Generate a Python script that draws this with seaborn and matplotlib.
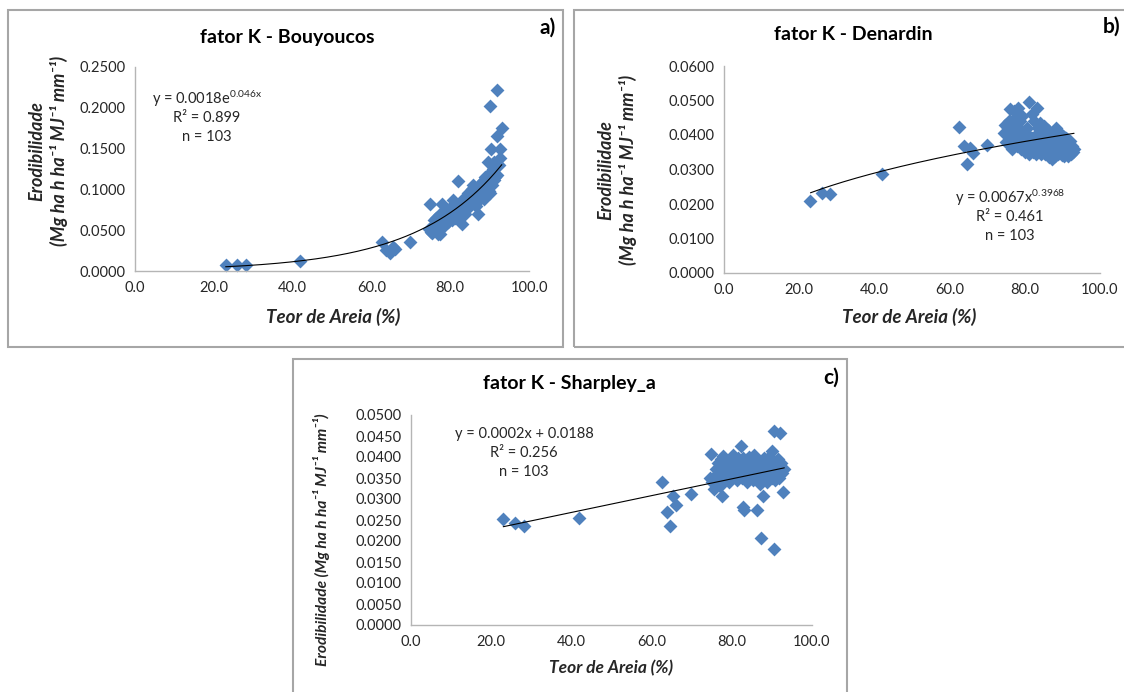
import numpy as np
import matplotlib
matplotlib.use("Agg")
import matplotlib.pyplot as plt
from matplotlib.patches import Rectangle
from matplotlib.ticker import FormatStrFormatter
import seaborn as sns

# teor de areia (%) - the same 103 samples appear in every panel
sand = [23.0, 26.0, 28.2, 42.0, 62.6, 63.8, 64.6, 65.4, 66.1, 69.9,
        74.5, 74.8, 75.0, 75.5, 75.8, 76.0, 76.2, 76.5, 76.8, 77.0,
        77.3, 77.5, 77.8, 78.0, 78.3, 78.5, 78.8, 79.0, 79.3, 79.5,
        79.8, 80.0, 80.3, 80.5, 80.8, 81.0, 81.2, 81.5, 81.8, 82.0,
        82.1, 82.4, 82.6, 82.9, 83.1, 83.3, 83.5, 83.8, 84.0, 84.3,
        84.5, 84.8, 85.0, 85.2, 85.5, 85.7, 85.9, 86.1, 86.4, 86.6,
        86.8, 87.0, 87.1, 87.2, 87.5, 87.8, 88.0, 88.2, 88.5, 88.7,
        88.9, 89.1, 89.4, 89.6, 89.8, 90.0, 90.1, 90.1, 90.3, 90.4,
        90.4, 90.6, 90.8, 91.0, 91.2, 91.5, 91.8, 92.0, 92.0, 92.3,
        92.6, 92.7, 93.1,
        78.2, 80.6, 82.8, 84.2, 85.4, 86.5, 87.9, 88.8, 89.9, 91.4]

k_bouyoucos = [0.0075, 0.0075, 0.0075, 0.0120, 0.0360, 0.0260, 0.0220, 0.0295, 0.0270, 0.0355,
               0.0510, 0.0815, 0.0480, 0.0470, 0.0560, 0.0620, 0.0500, 0.0650, 0.0580, 0.0450,
               0.0700, 0.0455, 0.0815, 0.0600, 0.0680, 0.0550, 0.0720, 0.0640, 0.0710, 0.0600,
               0.0750, 0.0680, 0.0780, 0.0620, 0.0875, 0.0700, 0.0650, 0.0820, 0.0720, 0.0715,
               0.1100, 0.0800, 0.0680, 0.0570, 0.0850, 0.0760, 0.0900, 0.0700, 0.0820, 0.0835,
               0.0950, 0.0780, 0.0880, 0.0957, 0.1000, 0.1060, 0.0850, 0.0920, 0.0880, 0.0795,
               0.0990, 0.1030, 0.0693, 0.0960, 0.0916, 0.1080, 0.0950, 0.1100, 0.1040, 0.0880,
               0.1150, 0.1000, 0.1160, 0.1335, 0.0977, 0.1200, 0.2025, 0.0960, 0.1490, 0.1100,
               0.1180, 0.1050, 0.1250, 0.1335, 0.1120, 0.1280, 0.1180, 0.2220, 0.1650, 0.1300,
               0.1490, 0.1380, 0.1750,
               0.0640, 0.0730, 0.0820, 0.0880, 0.0920, 0.1000, 0.0900, 0.1100, 0.1150, 0.1150]

k_denardin = [0.0208, 0.0233, 0.0230, 0.0286, 0.0424, 0.0369, 0.0315, 0.0363, 0.0347, 0.0371,
              0.0405, 0.0430, 0.0380, 0.0420, 0.0440, 0.0474, 0.0395, 0.0360, 0.0415, 0.0470,
              0.0450, 0.0380, 0.0425, 0.0368, 0.0478, 0.0395, 0.0440, 0.0360, 0.0455, 0.0385,
              0.0410, 0.0350, 0.0365, 0.0420, 0.0400, 0.0497, 0.0345, 0.0370, 0.0390, 0.0460,
              0.0352, 0.0440, 0.0378, 0.0400, 0.0345, 0.0477, 0.0420, 0.0360, 0.0435, 0.0385,
              0.0350, 0.0410, 0.0370, 0.0425, 0.0345, 0.0395, 0.0360, 0.0415, 0.0335, 0.0380,
              0.0400, 0.0350, 0.0368, 0.0330, 0.0410, 0.0388, 0.0355, 0.0420, 0.0375, 0.0345,
              0.0405, 0.0362, 0.0390, 0.0350, 0.0400, 0.0372, 0.0358, 0.0385, 0.0395, 0.0340,
              0.0365, 0.0380, 0.0350, 0.0392, 0.0362, 0.0340, 0.0375, 0.0355, 0.0382, 0.0345,
              0.0368, 0.0352, 0.0360,
              0.0405, 0.0358, 0.0365, 0.0345, 0.0380, 0.0390, 0.0340, 0.0362, 0.0342, 0.0385]

k_sharpley = [0.0252, 0.0244, 0.0236, 0.0254, 0.0340, 0.0270, 0.0236, 0.0306, 0.0286, 0.0311,
              0.0351, 0.0406, 0.0340, 0.0324, 0.0355, 0.0372, 0.0345, 0.0385, 0.0360, 0.0330,
              0.0395, 0.0306, 0.0402, 0.0365, 0.0378, 0.0350, 0.0388, 0.0372, 0.0340, 0.0395,
              0.0362, 0.0380, 0.0405, 0.0355, 0.0390, 0.0370, 0.0345, 0.0398, 0.0360, 0.0375,
              0.0385, 0.0427, 0.0350, 0.0280, 0.0274, 0.0365, 0.0392, 0.0340, 0.0380, 0.0400,
              0.0358, 0.0372, 0.0390, 0.0345, 0.0405, 0.0375, 0.0362, 0.0395, 0.0275, 0.0380,
              0.0352, 0.0388, 0.0335, 0.0206, 0.0370, 0.0306, 0.0398, 0.0360, 0.0382, 0.0340,
              0.0375, 0.0392, 0.0355, 0.0368, 0.0385, 0.0414, 0.0350, 0.0372, 0.0360, 0.0462,
              0.0181, 0.0390, 0.0345, 0.0380, 0.0365, 0.0395, 0.0350, 0.0457, 0.0372, 0.0385,
              0.0362, 0.0317, 0.0371,
              0.0355, 0.0368, 0.0398, 0.0388, 0.0378, 0.0365, 0.0355, 0.0395, 0.0388, 0.0378]

# trendline coefficients as printed on the chart
exp_a, exp_b = 0.0018, 0.046
pow_a, pow_b = 0.0067, 0.3968
lin_a, lin_b = 0.0002, 0.0188

sns.set_style("white")
plt.rcParams["font.family"] = ["Lato", "DejaVu Sans"]
plt.rcParams["mathtext.fontset"] = "custom"
plt.rcParams["mathtext.rm"] = "Lato"
plt.rcParams["mathtext.it"] = "Lato"

W, H = 1124, 692
BLUE = "#4F81BD"
TXT = "#262626"

fig = plt.figure(figsize=(W / 100, H / 100), dpi=100)


def px_axes(left, top, right, bottom):
    return fig.add_axes([left / W, 1 - bottom / H, (right - left) / W, (bottom - top) / H])


def ftext(x, y, s, **kw):
    fig.text(x / W, 1 - y / H, s, **kw)


def frame(left, top, right, bottom):
    fig.patches.append(Rectangle((left / W, 1 - bottom / H), (right - left) / W, (bottom - top) / H,
                                 transform=fig.transFigure, fill=False, ec="#a6a6a6", lw=1.5))


def style_axes(ax, ymax, ystep, fs=10.5):
    ax.set_xlim(0, 100)
    ax.set_ylim(0, ymax)
    ax.set_xticks(np.arange(0, 101, 20))
    ax.set_yticks(np.arange(0, ymax + ystep / 2, ystep))
    ax.xaxis.set_major_formatter(FormatStrFormatter("%.1f"))
    ax.yaxis.set_major_formatter(FormatStrFormatter("%.4f"))
    ax.tick_params(length=0, labelsize=fs, labelcolor=TXT, pad=7)
    sns.despine(ax=ax)
    for s in ["left", "bottom"]:
        ax.spines[s].set_color("#b5b5b5")
        ax.spines[s].set_linewidth(1)
    ax.set_xlabel("")
    ax.set_ylabel("")


def diamonds(ax, y):
    sns.scatterplot(x=sand, y=y, ax=ax, marker="D", color=BLUE, s=50,
                    edgecolor=BLUE, linewidth=0, clip_on=False)


ylab_unit = "(Mg ha h ha\u207b\u00b9 MJ\u207b\u00b9 mm\u207b\u00b9)"
bi = dict(fontweight="bold", style="italic", color=TXT, ha="center", va="center")
eq = dict(ha="center", va="center", fontsize=10.5, color=TXT)
xs = np.linspace(min(sand), max(sand), 200)

# a) Bouyoucos
frame(8, 10, 563, 347)
ax = px_axes(135, 67, 529, 271)
diamonds(ax, k_bouyoucos)
sns.lineplot(x=xs, y=exp_a * np.exp(exp_b * xs), ax=ax, color="black", lw=0.8)
style_axes(ax, 0.25, 0.05)
ftext(287, 37, "fator K - Bouyoucos", ha="center", va="center", fontsize=14, fontweight="bold", color="black")
ftext(548, 28, "a)", ha="center", va="center", fontsize=15, fontweight="bold", color="black")
ftext(333, 317, "Teor de Areia (%)", fontsize=13.5, **bi)
ftext(37, 151, "Erodibilidade", rotation=90, fontsize=13, **bi)
ftext(59, 151, ylab_unit, rotation=90, fontsize=13, **bi)
ftext(207, 99, r"y = 0.0018e$^{\mathrm{0.046x}}$", **eq)
ftext(207, 118, "R\u00b2 = 0.899", **eq)
ftext(207, 137, "n = 103", **eq)

# b) Denardin
frame(574, 10, 1140, 347)
ax = px_axes(724, 66, 1100, 273)
diamonds(ax, k_denardin)
sns.lineplot(x=xs, y=pow_a * xs ** pow_b, ax=ax, color="black", lw=0.8)
style_axes(ax, 0.06, 0.01)
ftext(853, 35, "fator K - Denardin", ha="center", va="center", fontsize=14, fontweight="bold", color="black")
ftext(1112, 27, "b)", ha="center", va="center", fontsize=15, fontweight="bold", color="black")
ftext(909, 317, "Teor de Areia (%)", fontsize=13.5, **bi)
ftext(606, 170, "Erodibilidade", rotation=90, fontsize=13, **bi)
ftext(628, 170, ylab_unit, rotation=90, fontsize=13, **bi)
ftext(1010, 198, r"y = 0.0067x$^{\mathrm{0.3968}}$", **eq)
ftext(1010, 217, "R\u00b2 = 0.461", **eq)
ftext(1010, 236, "n = 103", **eq)

# c) Sharpley_a
frame(293, 359, 847, 710)
ax = px_axes(411, 415, 812, 625)
diamonds(ax, k_sharpley)
sns.lineplot(x=xs, y=lin_a * xs + lin_b, ax=ax, color="black", lw=0.8)
style_axes(ax, 0.05, 0.005)
ftext(569, 384, "fator K - Sharpley_a", ha="center", va="center", fontsize=14, fontweight="bold", color="black")
ftext(831, 378, "c)", ha="center", va="center", fontsize=15, fontweight="bold", color="black")
ftext(611, 668, "Teor de Areia (%)", fontsize=12.5, **bi)
ftext(322, 540, "Erodibilidade " + ylab_unit, rotation=90, fontsize=11.2, **bi)
ftext(524, 434, "y = 0.0002x + 0.0188", **eq)
ftext(524, 453, "R\u00b2 = 0.256", **eq)
ftext(524, 472, "n = 103", **eq)

fig.savefig("out.png", dpi=100)
